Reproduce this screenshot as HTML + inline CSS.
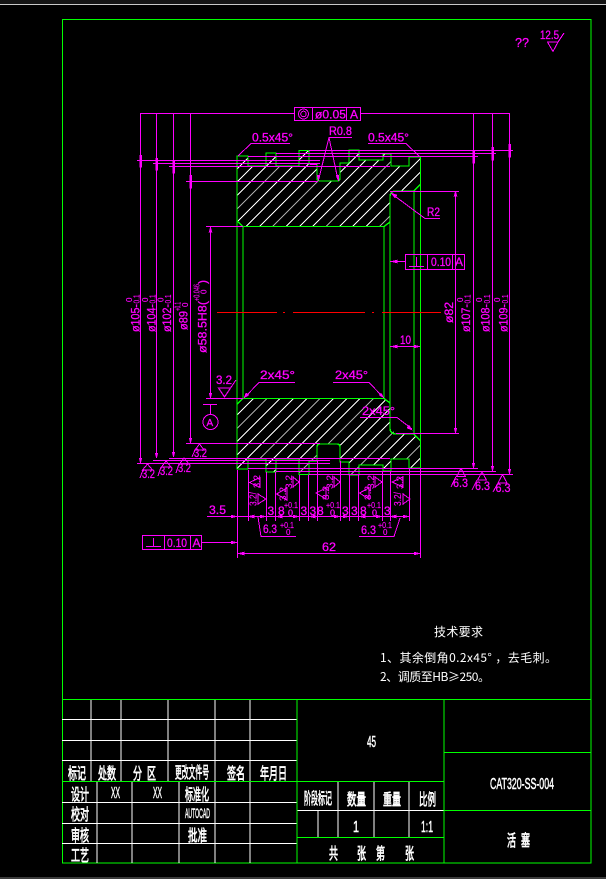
<!DOCTYPE html>
<html><head><meta charset="utf-8"><title>CAT320-SS-004</title>
<style>
html,body{margin:0;padding:0;background:#000;width:606px;height:879px;overflow:hidden}
svg{display:block;shape-rendering:crispEdges}
.g{stroke:#00ff00;fill:none;stroke-width:1.4}
.w{stroke:#fff;fill:none;stroke-width:1}
.m{stroke:#ff00ff;fill:none;stroke-width:1}
.mf{fill:#ff00ff;stroke:#ff00ff;stroke-width:.5}
text{font-family:"Liberation Sans","WenQuanYi Zen Hei",sans-serif}
.d{fill:#ff00ff;font-size:12px;stroke:#ff00ff;stroke-width:.3}
.s{fill:#ff00ff;font-size:8px;stroke:#ff00ff;stroke-width:.15}
.t{fill:#fff;font-family:"WenQuanYi Zen Hei","Noto Sans CJK SC",sans-serif;font-size:16px;stroke:#fff;stroke-width:.7}
.n{fill:#fff;font-family:"Liberation Sans","WenQuanYi Zen Hei",sans-serif;font-size:16px;stroke:#fff;stroke-width:.5}
.c{fill:#fff;font-family:"WenQuanYi Zen Hei","Noto Sans CJK SC",sans-serif;font-size:12px}
</style></head>
<body>
<svg xmlns="http://www.w3.org/2000/svg" width="606" height="879" viewBox="0 0 606 879">
<defs>
<clipPath id="ct"><polygon points="237,156 248,156 248,166 266,166 266,153 276,153 276,166 299,166 299,150.5 309,150.5 309,164 317,164 317,181 340,181 340,163 349,163 349,150 359,150 359,160 383,160 383,154 391,154 391,166 409,166 409,157 420.5,157 420.5,184 414,191 396,191 390,197 390,222 384,226.5 243,226.5 237,221"/></clipPath>
<clipPath id="cb"><polygon points="237,469 248,469 248,459 266,459 266,472 276,472 276,459 299,459 299,474.5 309,474.5 309,461 317,461 317,444 340,444 340,462 349,462 349,475 359,475 359,465 383,465 383,471 391,471 391,459 409,459 409,468 420.5,468 420.5,441 414,434 396,434 390,428 390,403 384,398.5 243,398.5 237,404"/></clipPath>
</defs>
<rect width="606" height="879" fill="#000"/>
<rect x="0" y="0" width="606" height="4" fill="#141414"/>
<rect x="0" y="4" width="606" height="1" fill="#c8c8c8"/>
<rect x="0" y="877" width="606" height="2" fill="#3c3c3c"/>

<!-- frame -->
<rect class="g" x="62.5" y="19.5" width="528.5" height="843.5"/>

<!-- title block white lines -->
<path class="w" d="M91 699V781M121 699V781M168 699V781M215 699V863M250 699V863M62 719.5H297M62 740.5H297M62 760.5H297M97 781V863M132 781V863M179 781V863M62 802.5H297M62 823.5H297M62 843.5H297M338 781V837M374 781V837M409 781V837M318 810V837M297 810.5H444"/>
<path class="g" d="M62 699.5H591M62 781.5H297M297 699V863M444 699V863M297 781.5H444M444 752.5H591M444 810.5H591M297 837.5H444"/>

<!-- title block text -->
<text class="t" x="68" y="779" textLength="18" lengthAdjust="spacingAndGlyphs">标记</text>
<text class="t" x="98" y="779" textLength="18" lengthAdjust="spacingAndGlyphs">处数</text>
<text class="t" x="133" y="779" textLength="9" lengthAdjust="spacingAndGlyphs">分</text>
<text class="t" x="147" y="779" textLength="9" lengthAdjust="spacingAndGlyphs">区</text>
<text class="t" x="175" y="778" textLength="34" lengthAdjust="spacingAndGlyphs">更改文件号</text>
<text class="t" x="227" y="779" textLength="18" lengthAdjust="spacingAndGlyphs">签名</text>
<text class="t" x="260" y="779" textLength="27" lengthAdjust="spacingAndGlyphs">年月日</text>
<text class="t" x="71" y="800" textLength="18" lengthAdjust="spacingAndGlyphs">设计</text>
<text class="n" x="111" y="798" textLength="9" lengthAdjust="spacingAndGlyphs">XX</text>
<text class="n" x="153" y="798" textLength="9" lengthAdjust="spacingAndGlyphs">XX</text>
<text class="t" x="185" y="800" textLength="24" lengthAdjust="spacingAndGlyphs">标准化</text>
<text class="t" x="71" y="820" textLength="18" lengthAdjust="spacingAndGlyphs">校对</text>
<text class="n" x="185" y="818" style="font-size:14px" textLength="25" lengthAdjust="spacingAndGlyphs">AUTOCAD</text>
<text class="t" x="71" y="841" textLength="18" lengthAdjust="spacingAndGlyphs">审核</text>
<text class="t" x="188" y="841" textLength="19" lengthAdjust="spacingAndGlyphs">批准</text>
<text class="t" x="71" y="861" textLength="18" lengthAdjust="spacingAndGlyphs">工艺</text>
<text class="n" x="367" y="747" textLength="9" lengthAdjust="spacingAndGlyphs">45</text>
<text class="t" x="304" y="804" textLength="28" lengthAdjust="spacingAndGlyphs">阶段标记</text>
<text class="t" x="347" y="805" textLength="19" lengthAdjust="spacingAndGlyphs">数量</text>
<text class="t" x="383" y="805" textLength="18" lengthAdjust="spacingAndGlyphs">重量</text>
<text class="t" x="419" y="805" textLength="17" lengthAdjust="spacingAndGlyphs">比例</text>
<text class="n" x="353" y="832" textLength="6" lengthAdjust="spacingAndGlyphs">1</text>
<text class="n" x="421" y="832" textLength="12" lengthAdjust="spacingAndGlyphs">1:1</text>
<text class="t" x="329" y="859" textLength="9" lengthAdjust="spacingAndGlyphs">共</text>
<text class="t" x="357" y="859" textLength="9" lengthAdjust="spacingAndGlyphs">张</text>
<text class="t" x="376" y="859" textLength="9" lengthAdjust="spacingAndGlyphs">第</text>
<text class="t" x="405" y="859" textLength="9" lengthAdjust="spacingAndGlyphs">张</text>
<text class="n" x="490" y="789" textLength="64" lengthAdjust="spacingAndGlyphs">CAT320-SS-004</text>
<text class="t" x="507" y="846" textLength="9" lengthAdjust="spacingAndGlyphs">活</text>
<text class="t" x="521" y="846" textLength="9" lengthAdjust="spacingAndGlyphs">塞</text>

<!-- technical notes -->
<text class="c" x="434" y="636" textLength="49">技术要求</text>
<text class="c" x="380" y="662" textLength="177">1、其余倒角0.2x45° ，去毛刺。</text>
<text class="c" x="380" y="681" textLength="110">2、调质至HB≥250。</text>

<!-- hatching -->
<g clip-path="url(#ct)">
<path stroke="#fff" stroke-width="1" fill="none" d="M230 175.8L430 -24.2M230 189.2L430 -10.8M230 202.5L430 2.5M230 229.2L430 29.2M230 242.5L430 42.5M230 255.8L430 55.8M230 282.5L430 82.5M230 295.8L430 95.8M230 309.2L430 109.2M230 335.8L430 135.8M230 349.2L430 149.2M230 362.5L430 162.5M230 389.2L430 189.2M230 402.5L430 202.5"/>
<path stroke="#a8a8a8" stroke-width="1" fill="none" d="M230 215.8L430 15.8M230 269.2L430 69.2M230 322.5L430 122.5M230 375.8L430 175.8"/>
</g>
<g clip-path="url(#cb)">
<path stroke="#fff" stroke-width="1" fill="none" d="M230 408.7L430 208.7M230 422L430 222M230 448.7L430 248.7M230 462L430 262M230 475.3L430 275.3M230 502L430 302M230 515.3L430 315.3M230 528.7L430 328.7M230 555.3L430 355.3M230 568.7L430 368.7M230 582L430 382M230 608.7L430 408.7M230 622L430 422M230 648.7L430 448.7"/>
<path stroke="#a8a8a8" stroke-width="1" fill="none" d="M230 435.3L430 235.3M230 488.7L430 288.7M230 542L430 342M230 595.3L430 395.3M230 635.3L430 435.3"/>
</g>

<!-- part profile -->
<path class="g" d="M237 221V404M243 226.5V398.5M384 226.5V398.5M390 197V428M414 191V434M420.5 157V468"/>
<path class="g" d="M237 221V156H248V166H266V153H276V166H299V150.5H309V164H317V178Q317 181 320 181H337Q340 181 340 178V163H349V150H359V160H383V154H391V166H409V157H420.5V184L414 191H396Q390 191 390 197V222L384 226.5H243L237 221"/>
<path class="g" d="M237 404V469H248V459H266V472H276V459H299V474.5H309V461H317V447Q317 444 320 444H337Q340 444 340 447V462H349V475H359V465H383V471H391V459H409V468H420.5V441L414 434H396Q390 434 390 428V403L384 398.5H243L237 404"/>

<!-- center line -->
<path stroke="#ff0000" stroke-width="1.2" fill="none" d="M217 312.5H277M283 312.5H285M293 312.5H365M372 312.5H374M382 312.5H441"/>

<!-- tolerance top -->
<rect class="m" x="294.5" y="107.5" width="66" height="13"/>
<path class="m" d="M312.5 107V121M346.5 107V121"/>
<circle class="m" cx="303.5" cy="114" r="5"/><circle class="m" cx="303.5" cy="114" r="2.8"/>
<text class="d" x="315" y="118.5" textLength="31" lengthAdjust="spacingAndGlyphs">ø0.05</text>
<text class="d" x="350" y="118.5">A</text>
<path class="m" d="M140.5 113.5H294M360 113.5H509.5"/>

<!-- dimension verticals -->
<path class="m" d="M140.5 113V463M156.5 113V458M173.5 113V457M190.5 113V443M473.5 113V468M492.5 113V471M509.5 113V474M210.5 227V398M455.5 191V433"/>
<!-- extension lines top -->
<path class="m" d="M137 160.5H320M153 163.5H320M169 166.5H390M186 181.5H318M206 226.5H243M310 164.5H317M248 156.5H478M276 153.5H496M309 150.5H513M390 191.5H459"/>
<!-- extension lines bottom -->
<path class="m" d="M186 443.5H320M169 458.5H390M153 460.5H330M137 463.5H330M206 398.5H243M248 468.5H478M276 471.5H496M309 474.5H513M396 433.5H459"/>

<!-- dim arrows top -->
<path class="mf" d="M139.5 155H141.5V167H139.5ZM155.5 158H157.5V170H155.5ZM172.5 160H174.5V173H172.5ZM189.5 175H191.5V188H189.5ZM472.5 150H474.5V163H472.5ZM491.5 147H493.5V160H491.5ZM508.5 144H510.5V157H508.5Z"/>
<!-- dim arrows bottom -->
<path class="mf" d="M139 458L142 458L140.5 463ZM155 453L158 453L156.5 458ZM172 452L175 452L173.5 457ZM189 438L192 438L190.5 443ZM472 463L475 463L473.5 468ZM491 466L494 466L492.5 471ZM508 469L511 469L509.5 474ZM209 232L212 232L210.5 227ZM209 393L212 393L210.5 398ZM454 196L457 196L455.5 191ZM454 428L457 428L455.5 433Z"/>

<!-- rotated dims left -->
<text class="d" transform="translate(139.5,332) rotate(-90)" textLength="28" lengthAdjust="spacingAndGlyphs">ø105-</text>
<text class="s" transform="translate(132,302) rotate(-90)">0</text><text class="s" transform="translate(139.5,303.5) rotate(-90)" textLength="9" lengthAdjust="spacingAndGlyphs">0.1</text>
<text class="d" transform="translate(155.5,332) rotate(-90)" textLength="28" lengthAdjust="spacingAndGlyphs">ø104-</text>
<text class="s" transform="translate(148,302) rotate(-90)">0</text><text class="s" transform="translate(155.5,303.5) rotate(-90)" textLength="9" lengthAdjust="spacingAndGlyphs">0.1</text>
<text class="d" transform="translate(171,332) rotate(-90)" textLength="28" lengthAdjust="spacingAndGlyphs">ø102-</text>
<text class="s" transform="translate(163.5,302) rotate(-90)">0</text><text class="s" transform="translate(171,303.5) rotate(-90)" textLength="9" lengthAdjust="spacingAndGlyphs">0.1</text>
<text class="d" transform="translate(187.5,330) rotate(-90)" textLength="19" lengthAdjust="spacingAndGlyphs">ø89</text>
<text class="s" transform="translate(180.5,311) rotate(-90)" textLength="9" lengthAdjust="spacingAndGlyphs">+0.1</text><text class="s" transform="translate(188,307) rotate(-90)">0</text>
<text class="d" transform="translate(206.5,353) rotate(-90)" textLength="52" lengthAdjust="spacingAndGlyphs">ø58.5H8(</text>
<text class="s" transform="translate(199.5,301) rotate(-90)" textLength="17" lengthAdjust="spacingAndGlyphs">+0.046</text><text class="s" transform="translate(206.5,294) rotate(-90)">0</text>
<text class="d" transform="translate(206.5,284) rotate(-90)">)</text>

<!-- rotated dims right -->
<text class="d" transform="translate(453,323) rotate(-90)" textLength="21" lengthAdjust="spacingAndGlyphs">ø82</text>
<text class="d" transform="translate(470,332) rotate(-90)" textLength="28" lengthAdjust="spacingAndGlyphs">ø107-</text>
<text class="s" transform="translate(463,302) rotate(-90)">0</text><text class="s" transform="translate(470.5,303.5) rotate(-90)" textLength="9" lengthAdjust="spacingAndGlyphs">0.1</text>
<text class="d" transform="translate(489.5,332) rotate(-90)" textLength="28" lengthAdjust="spacingAndGlyphs">ø108-</text>
<text class="s" transform="translate(482,302) rotate(-90)">0</text><text class="s" transform="translate(490,303.5) rotate(-90)" textLength="9" lengthAdjust="spacingAndGlyphs">0.1</text>
<text class="d" transform="translate(507.5,332) rotate(-90)" textLength="28" lengthAdjust="spacingAndGlyphs">ø109-</text>
<text class="s" transform="translate(500,302) rotate(-90)">0</text><text class="s" transform="translate(508,303.5) rotate(-90)" textLength="9" lengthAdjust="spacingAndGlyphs">0.1</text>

<!-- chamfer leaders -->
<text class="d" x="252" y="141.5" textLength="41" lengthAdjust="spacingAndGlyphs">0.5x45°</text>
<path class="m" d="M290 143.5H251L238 156"/>
<text class="d" x="368" y="141.5" textLength="41" lengthAdjust="spacingAndGlyphs">0.5x45°</text>
<path class="m" d="M368 143.5H406L420 157"/>
<text class="d" x="329" y="135" textLength="23" lengthAdjust="spacingAndGlyphs">R0.8</text>
<path class="m" d="M352 137.5H329L318.5 180M329 137.5L338 180"/>
<path class="mf" d="M317 175L320 175.5L318.5 181ZM336 175.5L339 175L338.5 181Z"/>
<text class="d" x="427" y="216" textLength="13" lengthAdjust="spacingAndGlyphs">R2</text>
<path class="m" d="M392 194L425 218.5H440"/>
<path class="mf" d="M391 193L397 195L395 198Z"/>
<text class="d" x="260" y="379" textLength="35" lengthAdjust="spacingAndGlyphs">2x45°</text>
<path class="m" d="M295 382.5H259L245 397"/>
<path class="mf" d="M244 398L246 393L249 395Z"/>
<text class="d" x="335" y="379" textLength="33" lengthAdjust="spacingAndGlyphs">2x45°</text>
<path class="m" d="M333 382.5H369L383 397"/>
<path class="mf" d="M384 398L379 395L381 393Z"/>
<text class="d" x="362" y="415" textLength="33" lengthAdjust="spacingAndGlyphs">2x45°</text>
<path class="m" d="M360 417.5H397L412 429"/>
<path class="mf" d="M412 430L407 428L409 425Z"/>

<!-- 10 dim -->
<text class="d" x="400" y="344" textLength="11" lengthAdjust="spacingAndGlyphs">10</text>
<path class="m" d="M390 346.5H420"/>
<path class="mf" d="M391 346.5L397 345V348ZM420 346.5L414 345V348Z"/>

<!-- right tolerance box -->
<rect class="m" x="405.5" y="254.5" width="59" height="15"/>
<path class="m" d="M427.5 254V270M452.5 254V270M409 266.5H424M416.5 257V266"/>
<path class="m" d="M390 261.5H405"/>
<path class="mf" d="M391 261.5L397 260V263Z"/>
<text class="d" x="431" y="266" textLength="20" lengthAdjust="spacingAndGlyphs">0.10</text>
<text class="d" x="455" y="266">A</text>

<!-- datum A -->
<path class="m" d="M203 404.5H217M210.5 404.5V414"/>
<circle class="m" cx="210.5" cy="422" r="7.5"/>
<text class="d" x="206.5" y="426" style="font-size:10px">A</text>
<!-- 3.2 near datum -->
<text class="d" x="216" y="384" textLength="16" lengthAdjust="spacingAndGlyphs">3.2</text>
<path class="m" d="M236 380L230.5 388H218.5L224.5 397L230.5 388"/>

<!-- bottom roughness left -->
<path class="m" d="M147.5 464L142.5 470H152.5ZM140 478L143 470"/>
<text class="d" x="142" y="478" textLength="13" lengthAdjust="spacingAndGlyphs">3.2</text>
<path class="m" d="M166 461L161.5 467H171ZM158 476L161 467"/>
<text class="d" x="160" y="475" textLength="13" lengthAdjust="spacingAndGlyphs">3.2</text>
<path class="m" d="M184 458L179.5 464H189ZM176 473L179 464"/>
<text class="d" x="178" y="472" textLength="13" lengthAdjust="spacingAndGlyphs">3.2</text>
<path class="m" d="M199.5 444L195 450H204ZM192 457L195 450"/>
<text class="d" x="194" y="457" textLength="13" lengthAdjust="spacingAndGlyphs">3.2</text>
<!-- bottom roughness right -->
<path class="m" d="M461 468.5L456.5 476.5H465.5ZM451 487L456 476.5"/>
<text class="d" x="453" y="487" textLength="15" lengthAdjust="spacingAndGlyphs">6.3</text>
<path class="m" d="M482 472L477.5 480H486.5ZM472 490L477 480"/>
<text class="d" x="475" y="490" textLength="15" lengthAdjust="spacingAndGlyphs">6.3</text>
<path class="m" d="M502.5 474.5L498 483H507ZM493 492L498 483"/>
<text class="d" x="495.5" y="492" textLength="15" lengthAdjust="spacingAndGlyphs">6.3</text>

<!-- bottom verticals -->
<path class="m" d="M237.5 470V558M248.5 470V521M266.5 472V521M275.5 472V521M299.5 475V521M308.5 475V521M317.5 461V521M340.5 461V521M349.5 475V521M358.5 475V521M382.5 471V521M390.5 471V521M409.5 468V521M420.5 468V558"/>
<path class="m" d="M207 516.5H409"/>
<path class="mf" d="M237 516.5L231 515V518ZM248 516.5L254 515V518ZM266 516.5L260 515V518ZM276 516.5L282 515V518ZM299 516.5L293 515V518ZM309 516.5L315 515V518ZM349 516.5L343 515V518ZM359 516.5L365 515V518ZM382 516.5L376 515V518ZM390 516.5L396 515V518ZM409 516.5L403 515V518ZM340 516.5L334 515V518Z"/>

<text class="d" x="209" y="514" textLength="17" lengthAdjust="spacingAndGlyphs">3.5</text>
<text class="d" x="267.5" y="515">3</text><text class="d" x="278" y="515">8</text>
<text class="s" x="284" y="508" textLength="14" lengthAdjust="spacingAndGlyphs">+0.1</text><text class="d" x="288" y="516" style="font-size:9px">0</text>
<text class="d" x="300.5" y="515">3</text><text class="d" x="309.5" y="515">3</text><text class="d" x="317" y="515">8</text>
<text class="s" x="326" y="508" textLength="14" lengthAdjust="spacingAndGlyphs">+0.1</text><text class="d" x="330" y="516" style="font-size:9px">0</text>
<text class="d" x="342" y="515">3</text><text class="d" x="351" y="515">3</text><text class="d" x="360" y="515">8</text>
<text class="s" x="367" y="508" textLength="14" lengthAdjust="spacingAndGlyphs">+0.1</text><text class="d" x="372" y="516" style="font-size:9px">0</text>
<text class="d" x="384" y="515">3</text>

<!-- rotated roughness symbols on grooves -->
<path class="m" d="M249.5 482.5L260 477.5V487.5ZM260 477V488"/>
<text class="s" transform="translate(260,488) rotate(-90)" style="font-size:9px" textLength="13" lengthAdjust="spacingAndGlyphs">3.2</text>
<path class="m" d="M266 499L258 494V504ZM258 493V505"/>
<text class="s" transform="translate(256.5,506) rotate(-90)" style="font-size:10px" textLength="14" lengthAdjust="spacingAndGlyphs">3.2/</text>
<path class="m" d="M299 482L293 477V487ZM293 476V488"/>
<text class="s" transform="translate(292,489) rotate(-90)" style="font-size:9px" textLength="14" lengthAdjust="spacingAndGlyphs">3.2</text>
<path class="m" d="M276.5 494L287 488V500ZM287 487V501"/>
<text class="s" transform="translate(286,501) rotate(-90)" style="font-size:9px" textLength="14" lengthAdjust="spacingAndGlyphs">3.2</text>
<path class="m" d="M340 482L334 477V487ZM334 476V488"/>
<text class="s" transform="translate(333,489) rotate(-90)" style="font-size:9px" textLength="14" lengthAdjust="spacingAndGlyphs">3.2</text>
<path class="m" d="M316 493L326 488V499ZM326 487V500"/>
<text class="s" transform="translate(329,500) rotate(-90)" style="font-size:9px" textLength="14" lengthAdjust="spacingAndGlyphs">3.2</text>
<path class="m" d="M382 482L375 477V487ZM375 476V488"/>
<text class="s" transform="translate(374,489) rotate(-90)" style="font-size:9px" textLength="14" lengthAdjust="spacingAndGlyphs">3.2</text>
<path class="m" d="M359.5 493L369 488V499ZM369 487V500"/>
<text class="s" transform="translate(371,500) rotate(-90)" style="font-size:9px" textLength="14" lengthAdjust="spacingAndGlyphs">3.2</text>
<path class="m" d="M392 482L403 477V487ZM403 476V488"/>
<text class="s" transform="translate(403,489) rotate(-90)" style="font-size:9px" textLength="13" lengthAdjust="spacingAndGlyphs">3.2</text>
<path class="m" d="M410 499L403 494V504ZM403 493V505"/>
<text class="s" transform="translate(401,506) rotate(-90)" style="font-size:10px" textLength="14" lengthAdjust="spacingAndGlyphs">3.2/</text>

<!-- 6.3 tolerance flags -->
<path class="m" d="M258 517L261 536.5H296"/>
<text class="d" x="263" y="533" textLength="14" lengthAdjust="spacingAndGlyphs">6.3</text>
<text class="s" x="280" y="528" textLength="14" lengthAdjust="spacingAndGlyphs">+0.1</text><text class="s" x="286" y="535">0</text>
<path class="m" d="M400 518L394 536.5H359"/>
<text class="d" x="361" y="534" textLength="15" lengthAdjust="spacingAndGlyphs">6.3</text>
<text class="s" x="378" y="528" textLength="14" lengthAdjust="spacingAndGlyphs">+0.1</text><text class="s" x="383" y="535">0</text>

<!-- lower tolerance box -->
<rect class="m" x="142.5" y="535.5" width="59" height="14"/>
<path class="m" d="M164.5 535V550M190.5 535V550M146 546.5H161M153.5 538V546M201 542.5H237"/>
<path class="mf" d="M237 542.5L231 541V544Z"/>
<text class="d" x="167" y="547" textLength="20" lengthAdjust="spacingAndGlyphs">0.10</text>
<text class="d" x="192.5" y="547">A</text>

<!-- 62 dim -->
<path class="m" d="M237 553.5H420"/>
<path class="mf" d="M238 553.5L244 552V555ZM420 553.5L414 552V555Z"/>
<text class="d" x="322" y="551" textLength="14" lengthAdjust="spacingAndGlyphs">62</text>

<!-- top right roughness -->
<text class="d" x="515" y="47" textLength="14" lengthAdjust="spacingAndGlyphs" style="font-size:13px">??</text>
<text class="d" x="540" y="39" textLength="19" lengthAdjust="spacingAndGlyphs">12.5</text>
<path class="m" d="M564 33L558 42H547.5L553 51.5L558 42"/>
</svg>
</body></html>
